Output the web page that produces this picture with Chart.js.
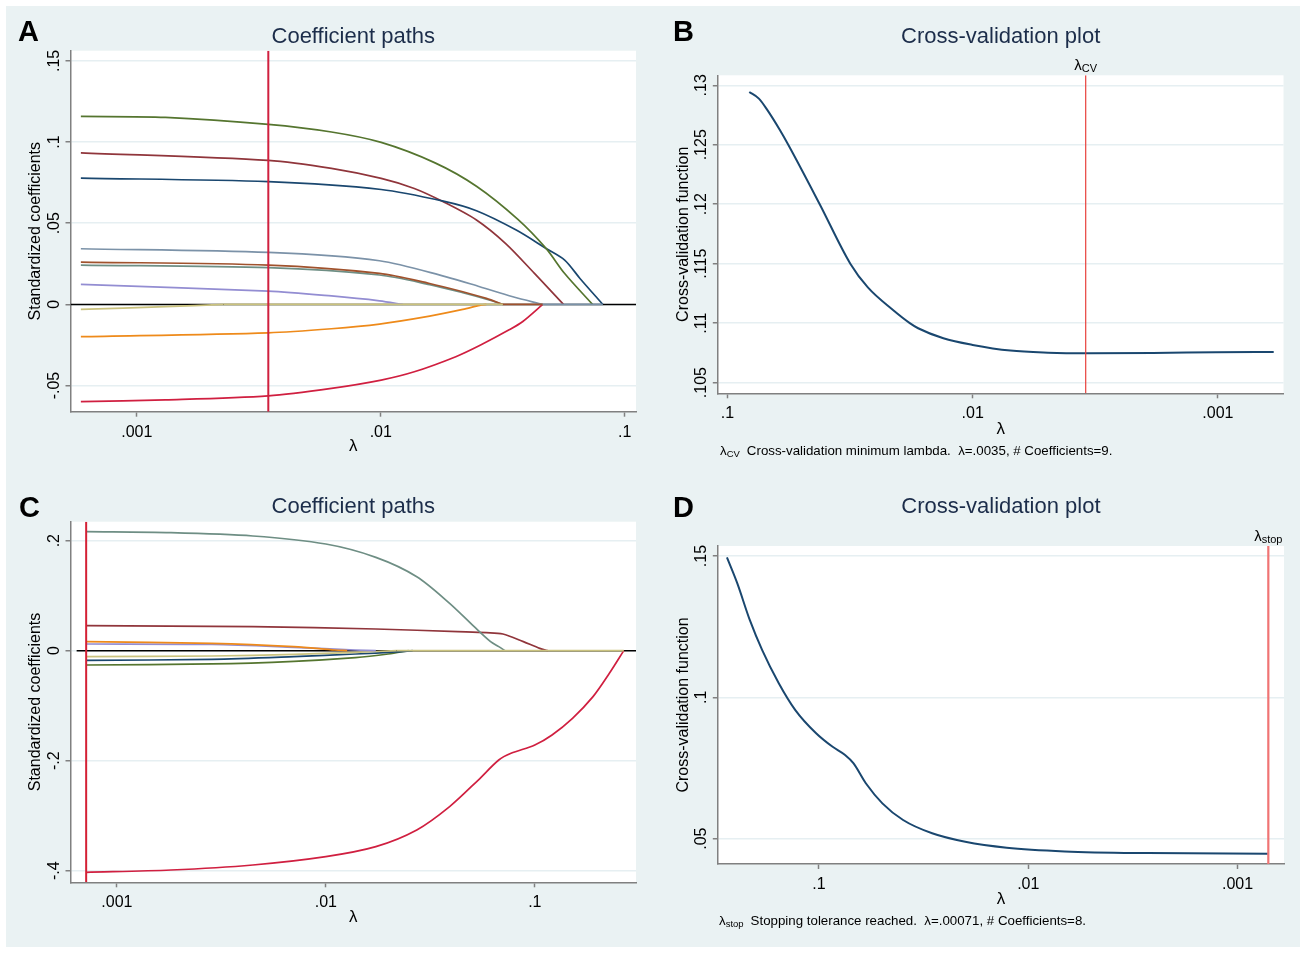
<!DOCTYPE html>
<html>
<head>
<meta charset="utf-8">
<title>Lasso coefficient paths and cross-validation plots</title>
<script src="https://cdn.jsdelivr.net/npm/chart.js@4.4.1/dist/chart.umd.min.js"></script>
<style>
  html, body { margin: 0; padding: 0; background: #ffffff; }
  body { position: relative; width: 1306px; height: 953px; overflow: hidden; }
  #bg { position: absolute; left: 6px; top: 6px; width: 1294px; height: 941px; background: #eaf2f3; }
  .panel { position: absolute; }
</style>
</head>
<body>
<div id="bg"></div>
<canvas id="panelA" class="panel" width="653" height="470" style="left:0;top:0"></canvas>
<canvas id="panelB" class="panel" width="653" height="470" style="left:653px;top:0"></canvas>
<canvas id="panelC" class="panel" width="653" height="483" style="left:0;top:470px"></canvas>
<canvas id="panelD" class="panel" width="653" height="483" style="left:653px;top:470px"></canvas>
<script>
// ---- data: [lambda, value] ----

// Panel A: coefficient paths (model 1)
const pathA_forest   = [[0.00059,0.1158],[0.00131,0.1152],[0.00346,0.1109],[0.00628,0.1062],[0.01004,0.0998],[0.01669,0.0872],[0.02467,0.0728],[0.03648,0.0524],[0.04757,0.0345],[0.05673,0.0190],[0.07374,0]];
const pathA_maroon   = [[0.00059,0.0934],[0.00346,0.0887],[0.00628,0.0838],[0.01004,0.0776],[0.01372,0.0714],[0.01805,0.0632],[0.02467,0.0520],[0.03243,0.0376],[0.04265,0.0191],[0.05608,0]];
const pathA_navy     = [[0.00059,0.0778],[0.00346,0.0756],[0.01004,0.0708],[0.01805,0.0636],[0.02467,0.0577],[0.03591,0.0458],[0.04757,0.0345],[0.05673,0.0273],[0.06554,0.0160],[0.08128,0]];
const pathA_blue     = [[0.00059,0.0343],[0.00346,0.0320],[0.00988,0.0269],[0.01855,0.0170],[0.02545,0.0109],[0.03478,0.0047],[0.04611,0]];
const pathA_sienna   = [[0.00059,0.0261],[0.00346,0.0242],[0.00988,0.0191],[0.01586,0.0129],[0.02169,0.0078],[0.02710,0.0037],[0.03168,0]];
const pathA_teal     = [[0.00059,0.0242],[0.00346,0.0226],[0.00988,0.0181],[0.01586,0.0122],[0.02169,0.0072],[0.02710,0.0032],[0.03168,0]];
const pathA_lavender = [[0.00059,0.0123],[0.00346,0.0082],[0.00628,0.0052],[0.00988,0.0022],[0.01230,0]];
const pathA_khaki    = [[0.00059,-0.0031],[0.00131,-0.0014],[0.00227,0]];
const pathA_orange   = [[0.00059,-0.0199],[0.00346,-0.0175],[0.00628,-0.0150],[0.00988,-0.0121],[0.01586,-0.0072],[0.02169,-0.0031],[0.02545,-0.0006],[0.02710,0]];
const pathA_cranb    = [[0.00059,-0.0599],[0.00131,-0.0588],[0.00346,-0.0563],[0.00628,-0.0517],[0.01004,-0.0466],[0.01372,-0.0415],[0.02030,-0.0322],[0.02566,-0.0250],[0.03373,-0.0155],[0.03822,-0.0105],[0.04611,0]];
// segments lying on zero after a coefficient leaves the model
const zeroA_khaki  = [0.00227, 0.03168];
const zeroA_sienna = [0.03168, 0.04611];
const zeroA_blue   = [0.04611, 0.08128];

// Panel B: cross-validation function (model 1)
const cvB = [[0.000592,0.10758],[0.00102,0.10755],[0.001841,0.10749],[0.003455,0.10747],[0.004925,0.10752],[0.007018,0.10769],[0.01,0.10817],[0.01317,0.10873],[0.01669,0.10957],[0.01805,0.11000],[0.02113,0.11110],[0.02676,0.11300],[0.03155,0.11500],[0.04205,0.12000],[0.05650,0.12500],[0.06113,0.12624],[0.06882,0.12793],[0.07443,0.12888],[0.08149,0.12944]];

// Panel C: coefficient paths (model 2)
const pathC_teal     = [[0.000713,0.2164],[0.001815,0.2145],[0.004477,0.2085],[0.01,0.1939],[0.01735,0.1697],[0.02724,0.1345],[0.03911,0.0861],[0.05127,0.0436],[0.06141,0.0164],[0.06721,0.0073],[0.07192,0]];
const pathC_maroon   = [[0.000713,0.0455],[0.004477,0.0436],[0.01735,0.0394],[0.04279,0.0345],[0.05870,0.0327],[0.07035,0.0303],[0.08813,0.0164],[0.1056,0.0042],[0.1155,0]];
const pathC_orange   = [[0.000713,0.0164],[0.00285,0.0133],[0.007033,0.0073],[0.01104,0.0012],[0.01265,0]];
const pathC_lavender = [[0.000713,0.0121],[0.00285,0.0112],[0.007033,0.0061],[0.01384,0.0012],[0.01735,0]];
const pathC_khaki    = [[0.000713,-0.0109],[0.00285,-0.0097],[0.007033,-0.0067],[0.01384,-0.0030],[0.02175,0]];
const pathC_navy     = [[0.000713,-0.0176],[0.00285,-0.0158],[0.007033,-0.0109],[0.01384,-0.0061],[0.02175,-0.0024],[0.02604,0]];
const pathC_forest   = [[0.000713,-0.0261],[0.00285,-0.0242],[0.007033,-0.0194],[0.01384,-0.0127],[0.01986,-0.0061],[0.02489,0]];
const pathC_cranb    = [[0.000713,-0.4030],[0.001815,-0.3988],[0.004477,-0.3897],[0.01,-0.3745],[0.01735,-0.3564],[0.02724,-0.3261],[0.03911,-0.2836],[0.05363,-0.2352],[0.06721,-0.1988],[0.07694,-0.1867],[0.1,-0.1715],[0.1209,-0.1533],[0.1515,-0.1230],[0.1899,-0.0836],[0.2274,-0.0412],[0.2665,0]];
const zeroC_khaki = [0.02175, 0.2665];

// Panel D: cross-validation function (model 2)
const cvD = [[0.000717,0.0447],[0.00269,0.0449],[0.006697,0.0455],[0.01268,0.0468],[0.02,0.0489],[0.02879,0.0519],[0.03963,0.0566],[0.04977,0.0625],[0.05972,0.0696],[0.06848,0.0767],[0.07503,0.0796],[0.08604,0.0825],[0.1032,0.0873],[0.1297,0.0955],[0.1556,0.1050],[0.1867,0.1167],[0.2141,0.1274],[0.2455,0.1403],[0.2752,0.1495]];

// selected lambdas
const lambdaCV1   = 0.00346;
const lambdaStop2 = 0.000713;

// axis ranges and ticks
const xRangeA = [0.000535, 0.1112], yRangeA = [-0.0661, 0.1563];
const xRangeB = [0.000540, 0.1095], yRangeB = [0.10410, 0.13084];
const xRangeC = [0.000642, 0.3049], yRangeC = [-0.4212, 0.2345];
const xRangeD = [0.000633, 0.3043], yRangeD = [0.04104, 0.15354];
const xTicks  = [0.001, 0.01, 0.1];
const yTicksA = [-0.05, 0, 0.05, 0.1, 0.15];
const yTicksB = [0.105, 0.11, 0.115, 0.12, 0.125, 0.13];
const yTicksC = [-0.4, -0.2, 0, 0.2];
const yTicksD = [0.05, 0.1, 0.15];

// ---- drawing ----
const FONT = '"Liberation Sans", Arial, Helvetica, sans-serif';
const AXIS = '#808080';
const GRID = '#e6eff2';
const C = {
  navy: '#1a476f', maroon: '#90353b', forest: '#55752f', orange: '#ee8a1a',
  teal: '#6e8e84', cranb: '#d01f40', lavender: '#938dd2', khaki: '#cac27e',
  sienna: '#a0522d', blue: '#7b92a8'
};

function stataNum(v) {
  const s = String(Number(Number(v).toPrecision(6)));
  return s.replace(/^(-?)0\./, '$1.');
}

// coefficient paths: smooth spline through the read points
function path(pairs, color, order, width) {
  return {
    data: pairs.map(p => ({ x: p[0], y: p[1] })),
    borderColor: color, borderWidth: width || 1.7, pointRadius: 0, fill: false,
    tension: 0.3, order: order
  };
}
// CV curves: monotone so the flat tail does not wobble
function cvPath(pairs, color) {
  const ds = path(pairs, color, 2, 2);
  ds.cubicInterpolationMode = 'monotone';
  return ds;
}
function zeroSeg(range, color, order) {
  return path([[range[0], 0], [range[1], 0]], color, order);
}
function vline(lam, yr, color, width) {
  return {
    data: [{ x: lam, y: yr[0] }, { x: lam, y: yr[1] }],
    borderColor: color, borderWidth: width, pointRadius: 0, fill: false, tension: 0, order: 0
  };
}

function drawSubLabel(ctx, x, y, main, sub, size, subSize, align) {
  ctx.font = size + 'px ' + FONT;
  const w1 = ctx.measureText(main).width;
  ctx.font = subSize + 'px ' + FONT;
  const w2 = ctx.measureText(sub).width;
  const x0 = align === 'center' ? x - (w1 + w2) / 2 : x;
  ctx.textAlign = 'left';
  ctx.font = size + 'px ' + FONT;
  ctx.fillText(main, x0, y);
  ctx.font = subSize + 'px ' + FONT;
  ctx.fillText(sub, x0 + w1, y + 1.5);
  return x0 + w1 + w2;
}

const panelPlugin = {
  id: 'panel',
  beforeDraw(chart) {
    const { ctx, chartArea: a } = chart;
    ctx.save();
    ctx.fillStyle = '#ffffff';
    ctx.fillRect(a.left, a.top, a.right - a.left, a.bottom - a.top);
    ctx.restore();
  },
  afterDraw(chart, args, o) {
    const { ctx, chartArea: a, scales } = chart;
    ctx.save();
    ctx.textBaseline = 'alphabetic';
    // panel letter
    ctx.fillStyle = '#000';
    ctx.font = 'bold 29px ' + FONT;
    ctx.textAlign = 'left';
    ctx.fillText(o.letter, o.letterX, o.letterY);
    // title
    ctx.fillStyle = '#1c2d4a';
    ctx.font = '22px ' + FONT;
    ctx.textAlign = 'center';
    ctx.fillText(o.title, (a.left + a.right) / 2, o.titleY);
    // y tick labels, rotated like Stata
    const ys = scales.y;
    ctx.fillStyle = '#000';
    ctx.font = '16px ' + FONT;
    ys.ticks.forEach(t => {
      ctx.save();
      ctx.translate(a.left - 12, ys.getPixelForValue(t.value));
      ctx.rotate(-Math.PI / 2);
      ctx.textAlign = 'center';
      ctx.fillText(stataNum(t.value), 0, 0);
      ctx.restore();
    });
    // marker label above the plot
    if (o.marker) {
      const px = scales.x.getPixelForValue(o.marker.value);
      drawSubLabel(ctx, px, a.top - 5, 'λ', o.marker.sub, 15, 11, 'center');
    }
    // note under the plot
    if (o.note) {
      const x1 = drawSubLabel(ctx, o.note.x, o.note.y, 'λ', o.note.sub, 13.3, 9.5, 'left');
      ctx.font = '13.3px ' + FONT;
      ctx.textAlign = 'left';
      ctx.fillText(o.note.text, x1 + 7, o.note.y);
    }
    ctx.restore();
  }
};

function makeChart(id, cfg) {
  const el = document.getElementById(id);
  const W = el.width, H = el.height;
  const box = cfg.box; // plot region: left, top, right, bottom
  return new Chart(el, {
    type: 'line',
    data: { datasets: cfg.datasets },
    options: {
      responsive: false,
      animation: false,
      events: [],
      layout: { autoPadding: false, padding: { left: 0, top: box[1], right: W - box[2], bottom: 0 } },
      plugins: { legend: { display: false }, tooltip: { enabled: false }, panel: cfg.panel },
      scales: {
        x: {
          type: 'logarithmic',
          reverse: !!cfg.reverse,
          min: cfg.xRange[0], max: cfg.xRange[1],
          afterBuildTicks: s => { s.ticks = xTicks.map(v => ({ value: v })); },
          afterFit: s => { s.height = H - box[3]; },
          ticks: { callback: v => stataNum(v), autoSkip: false, maxRotation: 0, padding: 6,
                   color: '#000', font: { family: FONT, size: 16 } },
          grid: { drawOnChartArea: false, tickLength: 5, tickColor: AXIS, tickWidth: 1.5, color: AXIS },
          border: { color: AXIS, width: 1.5 },
          title: { display: true, text: 'λ', color: '#000', font: { family: FONT, size: 17 },
                   padding: { top: 0, bottom: cfg.xTitlePad } }
        },
        y: {
          type: 'linear',
          min: cfg.yRange[0], max: cfg.yRange[1],
          afterBuildTicks: s => { s.ticks = cfg.yTicks.map(v => ({ value: v })); },
          afterFit: s => { s.width = box[0]; },
          ticks: { display: false },
          grid: { color: GRID, lineWidth: 1.5, tickLength: 5, tickColor: AXIS, tickWidth: 1.5 },
          border: { color: AXIS, width: 1.5 },
          title: { display: true, text: cfg.yTitle, color: '#000', font: { family: FONT, size: 16 },
                   padding: { top: cfg.yTitlePad, bottom: 0 } }
        }
      }
    },
    plugins: [panelPlugin]
  });
}

// A
makeChart('panelA', {
  box: [70.5, 50.7, 636, 411.7],
  xRange: xRangeA, yRange: yRangeA, yTicks: yTicksA,
  yTitle: 'Standardized coefficients', yTitlePad: 26, xTitlePad: 13,
  panel: { letter: 'A', letterX: 18, letterY: 41, title: 'Coefficient paths', titleY: 43 },
  datasets: [
    vline(lambdaCV1, yRangeA, '#d0203f', 2),
    zeroSeg(zeroA_blue, C.blue, 2),
    zeroSeg(zeroA_sienna, C.sienna, 2),
    zeroSeg(zeroA_khaki, C.khaki, 2),
    path(pathA_forest, C.forest, 3),
    path(pathA_navy, C.navy, 4),
    path(pathA_maroon, C.maroon, 5),
    path(pathA_blue, C.blue, 6),
    path(pathA_sienna, C.sienna, 7),
    path(pathA_teal, C.teal, 8),
    path(pathA_lavender, C.lavender, 9),
    path(pathA_khaki, C.khaki, 9),
    path(pathA_orange, C.orange, 10),
    path(pathA_cranb, C.cranb, 11),
    path([[xRangeA[0], 0], [xRangeA[1], 0]], '#000000', 100, 1.5)
  ]
});

// B
makeChart('panelB', {
  box: [64.8, 75.3, 630.5, 393.3], reverse: true,
  xRange: xRangeB, yRange: yRangeB, yTicks: yTicksB,
  yTitle: 'Cross-validation function', yTitlePad: 21, xTitlePad: 30,
  panel: {
    letter: 'B', letterX: 20, letterY: 41, title: 'Cross-validation plot', titleY: 43,
    marker: { value: lambdaCV1, sub: 'CV' },
    note: { x: 67, y: 455, sub: 'CV', text: 'Cross-validation minimum lambda.  λ=.0035, # Coefficients=9.' }
  },
  datasets: [
    vline(lambdaCV1, yRangeB, '#e8413c', 1.2),
    cvPath(cvB.slice().reverse(), C.navy)
  ]
});

// C
makeChart('panelC', {
  box: [70.5, 51.7, 636, 412.3],
  xRange: xRangeC, yRange: yRangeC, yTicks: yTicksC,
  yTitle: 'Standardized coefficients', yTitlePad: 26, xTitlePad: 25,
  panel: { letter: 'C', letterX: 19, letterY: 47, title: 'Coefficient paths', titleY: 43 },
  datasets: [
    vline(lambdaStop2, yRangeC, '#d42035', 2),
    zeroSeg(zeroC_khaki, C.khaki, 2),
    path(pathC_teal, C.teal, 3),
    path(pathC_maroon, C.maroon, 4),
    path(pathC_orange, C.orange, 5),
    path(pathC_lavender, C.lavender, 6),
    path(pathC_khaki, C.khaki, 7),
    path(pathC_navy, C.navy, 8),
    path(pathC_forest, C.forest, 9),
    path(pathC_cranb, C.cranb, 10),
    path([[xRangeC[0], 0], [xRangeC[1], 0]], '#000000', 100, 1.5)
  ]
});

// D
makeChart('panelD', {
  box: [64.8, 76, 631, 394], reverse: true,
  xRange: xRangeD, yRange: yRangeD, yTicks: yTicksD,
  yTitle: 'Cross-validation function', yTitlePad: 21, xTitlePad: 43,
  panel: {
    letter: 'D', letterX: 20, letterY: 47, title: 'Cross-validation plot', titleY: 43,
    marker: { value: lambdaStop2, sub: 'stop' },
    note: { x: 66, y: 455, sub: 'stop', text: 'Stopping tolerance reached.  λ=.00071, # Coefficients=8.' }
  },
  datasets: [
    vline(lambdaStop2, yRangeD, '#f07474', 2.2),
    cvPath(cvD.slice().reverse(), C.navy)
  ]
});
</script>
</body>
</html>
